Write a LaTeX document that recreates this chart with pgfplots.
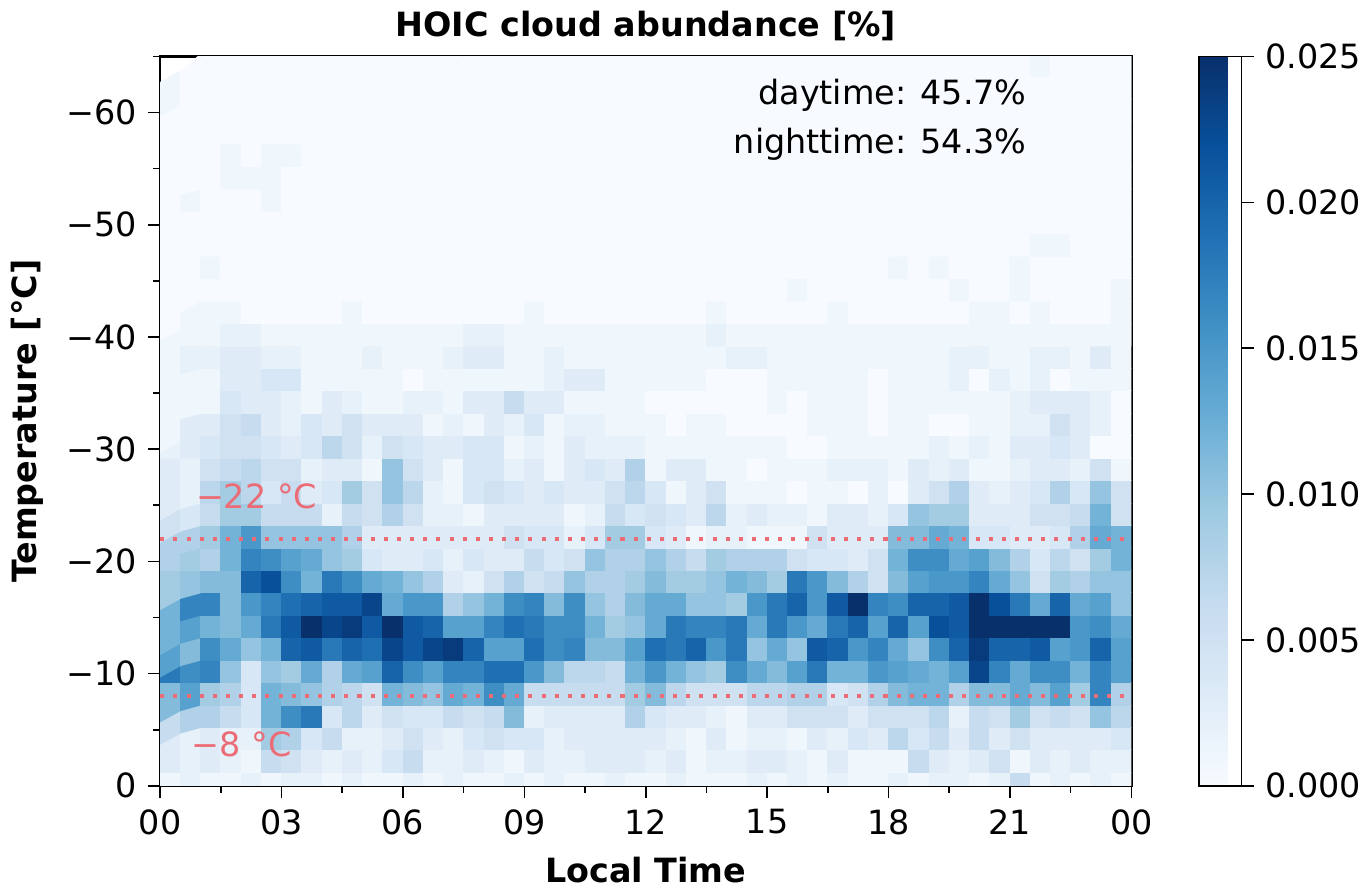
\documentclass[border=0pt]{standalone}
\usepackage{pgfplots}
\pgfplotsset{compat=1.18}
\usepackage{fontspec}
\setmainfont{DejaVu Sans}
\definecolor{redl}{RGB}{236,108,118}
\begin{document}
\fontsize{16.5}{20}\selectfont
\begin{tikzpicture}
\begin{axis}[
  width=480pt, height=360.5pt, scale only axis,
  xmin=0, xmax=24, ymin=-65, ymax=0, y dir=reverse,
  xtick={0,3,...,24}, xticklabels={00,03,06,09,12,15,18,21,00},
  minor xtick={1.5,4.5,...,22.5},
  ytick={-60,-50,...,0}, yticklabels={−60,−50,−40,−30,−20,−10,0},
  minor ytick={-65,-55,...,-5},
  tick align=outside, tick pos=left,
  major tick length=6pt, minor tick length=3.5pt,
  every tick/.style={black, line width=0.8pt},
  axis line style={line width=1.2pt},
  xlabel={\bfseries Local Time}, ylabel={\bfseries Temperature [°C]},
  title={\bfseries HOIC cloud abundance [\%]},
  title style={yshift=-4pt},
  /pgf/number format/assume math mode=true,
  colormap={blues}{rgb255=(247,251,255) rgb255=(222,235,247) rgb255=(198,219,239) rgb255=(158,202,225) rgb255=(107,174,214) rgb255=(66,146,198) rgb255=(33,113,181) rgb255=(8,81,156) rgb255=(8,48,107)},
  point meta min=0, point meta max=25,
  colorbar,
  colorbar style={width=21pt, xshift=9pt,
    ytick={0,5,...,25}, yticklabels={0.000,0.005,0.010,0.015,0.020,0.025},
    tick pos=right, tick align=outside, major tick length=6pt,
    axis line style={line width=0.8pt}},
]
\addplot[matrix plot*, mesh/cols=48, point meta=explicit]
  table[row sep=\\, x expr={mod(\coordindex,48)*0.5+0.25}, y expr={-0.2-2*floor(\coordindex/48)}, meta=c] {
c\\
1\\2\\1\\1\\2\\1\\2\\2\\1\\2\\1\\1\\2\\1\\2\\1\\1\\2\\1\\2\\1\\1\\2\\1\\1\\2\\1\\1\\1\\2\\1\\2\\1\\2\\1\\1\\2\\1\\2\\2\\1\\2\\6\\1\\2\\1\\2\\1\\
3\\2\\3\\2\\1\\6\\5\\3\\2\\3\\2\\4\\6\\2\\2\\3\\2\\1\\3\\2\\2\\3\\3\\3\\2\\3\\1\\2\\2\\3\\3\\2\\1\\3\\1\\1\\1\\6\\3\\2\\3\\5\\1\\3\\2\\3\\2\\2\\
3\\2\\3\\2\\2\\9\\8\\4\\6\\2\\2\\3\\5\\3\\2\\4\\5\\4\\4\\2\\3\\3\\3\\3\\3\\2\\1\\3\\1\\2\\2\\1\\3\\2\\4\\3\\7\\4\\6\\3\\6\\3\\5\\3\\3\\3\\3\\4\\
6\\8\\8\\6\\4\\12\\16\\18\\4\\7\\3\\5\\4\\4\\6\\5\\6\\11\\2\\3\\3\\3\\3\\8\\4\\3\\3\\2\\1\\3\\3\\5\\5\\5\\3\\5\\5\\5\\7\\2\\6\\5\\9\\5\\6\\5\\10\\7\\
11\\14\\9\\8\\4\\12\\11\\10\\8\\7\\5\\12\\11\\10\\13\\12\\16\\13\\6\\6\\6\\6\\6\\9\\11\\7\\5\\5\\5\\7\\7\\8\\8\\4\\5\\8\\11\\12\\12\\8\\11\\11\\13\\11\\14\\9\\17\\8\\
18\\16\\17\\10\\4\\10\\9\\13\\8\\13\\14\\20\\16\\14\\17\\17\\19\\19\\15\\11\\7\\7\\6\\12\\15\\12\\10\\9\\16\\13\\11\\14\\18\\12\\12\\15\\14\\13\\12\\14\\23\\17\\13\\16\\16\\12\\17\\14\\
14\\11\\16\\13\\10\\12\\20\\21\\18\\20\\19\\23\\21\\23\\24\\20\\14\\14\\19\\16\\17\\11\\11\\14\\19\\18\\20\\15\\18\\10\\13\\10\\21\\20\\15\\17\\13\\10\\16\\20\\24\\20\\20\\21\\14\\15\\20\\14\\
12\\14\\12\\11\\13\\18\\21\\25\\23\\24\\21\\25\\21\\20\\14\\14\\17\\19\\18\\16\\16\\12\\9\\10\\13\\18\\17\\17\\18\\13\\18\\15\\13\\18\\20\\14\\20\\14\\22\\21\\25\\25\\25\\25\\25\\15\\16\\13\\
12\\17\\17\\11\\15\\17\\19\\20\\21\\21\\23\\13\\15\\15\\8\\10\\12\\16\\17\\11\\16\\10\\8\\11\\13\\13\\10\\10\\9\\15\\18\\20\\15\\21\\25\\17\\16\\20\\20\\21\\25\\22\\18\\13\\20\\13\\14\\10\\
9\\10\\11\\11\\20\\22\\16\\12\\18\\16\\13\\12\\10\\8\\3\\2\\5\\8\\5\\6\\10\\8\\8\\9\\11\\9\\9\\10\\12\\11\\9\\18\\15\\11\\8\\5\\11\\14\\15\\15\\17\\13\\10\\5\\9\\8\\10\\10\\
8\\9\\8\\12\\17\\16\\14\\13\\10\\9\\4\\3\\3\\4\\2\\4\\3\\3\\6\\4\\5\\10\\8\\8\\10\\8\\6\\9\\8\\8\\8\\5\\4\\4\\3\\5\\12\\16\\16\\13\\14\\11\\8\\4\\7\\5\\9\\12\\
8\\8\\9\\12\\15\\10\\10\\10\\10\\8\\3\\3\\3\\3\\3\\3\\3\\5\\4\\4\\2\\4\\9\\9\\4\\3\\1\\2\\2\\1\\1\\1\\5\\3\\3\\3\\11\\11\\13\\12\\4\\4\\3\\3\\4\\8\\13\\12\\
5\\4\\6\\9\\9\\6\\6\\6\\2\\6\\5\\8\\5\\2\\2\\1\\3\\3\\3\\3\\1\\2\\6\\4\\5\\4\\3\\7\\2\\3\\2\\2\\1\\3\\3\\2\\4\\10\\9\\9\\3\\3\\3\\5\\5\\6\\12\\5\\
3\\2\\7\\9\\7\\4\\6\\3\\4\\9\\5\\10\\7\\2\\1\\4\\5\\4\\3\\4\\3\\3\\5\\7\\4\\1\\3\\5\\1\\1\\1\\0\\1\\1\\0\\2\\0\\3\\5\\8\\3\\2\\3\\4\\8\\4\\10\\5\\
3\\2\\5\\6\\7\\5\\5\\2\\3\\3\\1\\10\\5\\3\\1\\4\\4\\2\\3\\1\\3\\4\\3\\8\\1\\3\\3\\1\\1\\0\\1\\1\\1\\2\\2\\2\\1\\3\\2\\3\\1\\1\\2\\3\\3\\2\\5\\1\\
2\\3\\4\\5\\5\\4\\3\\4\\7\\5\\2\\5\\4\\3\\3\\4\\4\\1\\2\\1\\3\\2\\2\\2\\1\\1\\1\\1\\1\\1\\1\\0\\0\\1\\1\\1\\1\\1\\2\\1\\2\\1\\3\\3\\4\\3\\0\\0\\
1\\3\\3\\5\\6\\3\\2\\4\\3\\5\\3\\3\\3\\1\\2\\1\\3\\2\\4\\1\\2\\2\\1\\1\\1\\0\\1\\1\\0\\0\\0\\0\\1\\1\\1\\0\\1\\1\\0\\0\\1\\1\\2\\2\\5\\3\\2\\0\\
1\\1\\1\\4\\3\\3\\2\\1\\3\\2\\1\\1\\2\\2\\1\\3\\3\\6\\3\\3\\1\\1\\1\\1\\0\\0\\0\\0\\0\\0\\1\\0\\1\\1\\1\\0\\1\\1\\1\\1\\1\\1\\2\\3\\3\\3\\2\\0\\
1\\1\\1\\3\\3\\4\\4\\1\\1\\1\\1\\1\\0\\1\\1\\1\\1\\1\\1\\2\\3\\3\\1\\1\\1\\1\\1\\0\\0\\0\\1\\1\\1\\1\\1\\0\\1\\1\\1\\2\\0\\2\\1\\2\\0\\1\\1\\1\\
1\\2\\2\\3\\3\\2\\2\\1\\1\\1\\2\\1\\1\\1\\2\\3\\3\\1\\1\\2\\1\\1\\1\\1\\1\\1\\1\\1\\2\\2\\1\\1\\1\\1\\1\\1\\1\\1\\1\\2\\2\\1\\1\\2\\2\\1\\3\\1\\
1\\1\\1\\2\\2\\1\\1\\1\\1\\1\\1\\1\\1\\1\\1\\2\\2\\1\\1\\1\\1\\1\\1\\1\\1\\1\\1\\2\\1\\1\\1\\1\\1\\1\\1\\1\\1\\1\\1\\1\\1\\1\\1\\1\\1\\1\\1\\1\\
0\\1\\1\\1\\0\\0\\0\\0\\0\\1\\0\\0\\0\\0\\0\\0\\0\\0\\1\\0\\0\\0\\0\\0\\0\\0\\0\\1\\0\\0\\0\\0\\0\\1\\0\\0\\0\\0\\0\\0\\1\\1\\0\\1\\0\\0\\0\\1\\
0\\0\\0\\0\\0\\0\\0\\0\\0\\0\\0\\0\\0\\0\\0\\0\\0\\0\\0\\0\\0\\0\\0\\0\\0\\0\\0\\0\\0\\0\\0\\1\\0\\0\\0\\0\\0\\0\\0\\1\\0\\0\\1\\0\\0\\0\\0\\1\\
0\\0\\1\\0\\0\\0\\0\\0\\0\\0\\0\\0\\0\\0\\0\\0\\0\\0\\0\\0\\0\\0\\0\\0\\0\\0\\0\\0\\0\\0\\0\\0\\0\\0\\0\\0\\1\\0\\1\\0\\0\\0\\1\\0\\0\\0\\0\\0\\
0\\0\\0\\0\\0\\0\\0\\0\\0\\0\\0\\0\\0\\0\\0\\0\\0\\0\\0\\0\\0\\0\\0\\0\\0\\0\\0\\0\\0\\0\\0\\0\\0\\0\\0\\0\\0\\0\\0\\0\\0\\0\\0\\1\\1\\0\\0\\0\\
0\\0\\0\\0\\0\\0\\0\\0\\0\\0\\0\\0\\0\\0\\0\\0\\0\\0\\0\\0\\0\\0\\0\\0\\0\\0\\0\\0\\0\\0\\0\\0\\0\\0\\0\\0\\0\\0\\0\\0\\0\\0\\0\\0\\0\\0\\0\\0\\
0\\1\\0\\0\\0\\1\\0\\0\\0\\0\\0\\0\\0\\0\\0\\0\\0\\0\\0\\0\\0\\0\\0\\0\\0\\0\\0\\0\\0\\0\\0\\0\\0\\0\\0\\0\\0\\0\\0\\0\\0\\0\\0\\0\\0\\0\\0\\0\\
0\\0\\0\\1\\1\\1\\0\\0\\0\\0\\0\\0\\0\\0\\0\\0\\0\\0\\0\\0\\0\\0\\0\\0\\0\\0\\0\\0\\0\\0\\0\\0\\0\\0\\0\\0\\0\\0\\0\\0\\0\\0\\0\\0\\0\\0\\0\\0\\
0\\0\\0\\1\\0\\1\\1\\0\\0\\0\\0\\0\\0\\0\\0\\0\\0\\0\\0\\0\\0\\0\\0\\0\\0\\0\\0\\0\\0\\0\\0\\0\\0\\0\\0\\0\\0\\0\\0\\0\\0\\0\\0\\0\\0\\0\\0\\0\\
0\\0\\0\\0\\0\\0\\0\\0\\0\\0\\0\\0\\0\\0\\0\\0\\0\\0\\0\\0\\0\\0\\0\\0\\0\\0\\0\\0\\0\\0\\0\\0\\0\\0\\0\\0\\0\\0\\0\\0\\0\\0\\0\\0\\0\\0\\0\\0\\
0\\0\\0\\0\\0\\0\\0\\0\\0\\0\\0\\0\\0\\0\\0\\0\\0\\0\\0\\0\\0\\0\\0\\0\\0\\0\\0\\0\\0\\0\\0\\0\\0\\0\\0\\0\\0\\0\\0\\0\\0\\0\\0\\0\\0\\0\\0\\0\\
1\\0\\0\\0\\0\\0\\0\\0\\0\\0\\0\\0\\0\\0\\0\\0\\0\\0\\0\\0\\0\\0\\0\\0\\0\\0\\0\\0\\0\\0\\0\\0\\0\\0\\0\\0\\0\\0\\0\\0\\0\\0\\0\\0\\0\\0\\0\\0\\
1\\0\\0\\0\\0\\0\\0\\0\\0\\0\\0\\0\\0\\0\\0\\0\\0\\0\\0\\0\\0\\0\\0\\0\\0\\0\\0\\0\\0\\0\\0\\0\\0\\0\\0\\0\\0\\0\\0\\0\\0\\0\\0\\1\\0\\0\\0\\0\\
};
\addplot[redl, line width=2pt, dash pattern=on 2pt off 4.5pt] coordinates {(0,-22) (24,-22)};
\addplot[redl, line width=2pt, dash pattern=on 2pt off 4.5pt] coordinates {(0,-8) (24,-8)};
\node[redl, anchor=west] at (axis cs:0.6,-25.8) {−22 °C};
\node[redl, anchor=west] at (axis cs:0.5,-3.7) {−8 °C};
\node[anchor=north east, align=right] at (axis cs:21.7,-64) {daytime: 45.7\%\\[4pt]nighttime: 54.3\%};
\end{axis}
\end{tikzpicture}
\end{document}
